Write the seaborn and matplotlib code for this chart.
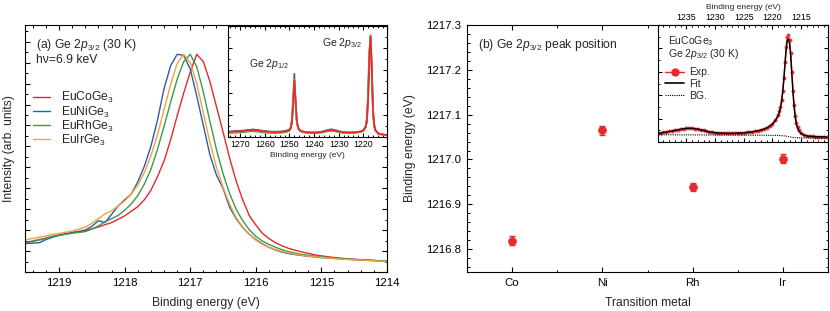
import numpy as np
import pandas as pd
import seaborn as sns
import matplotlib
matplotlib.use('Agg')
import matplotlib.pyplot as plt
from matplotlib.ticker import MultipleLocator, NullFormatter, FormatStrFormatter
from matplotlib.lines import Line2D

# ---------------- data ----------------
# (a) Ge 2p3/2 spectra, binding energy grid (eV)
energy = [1219.5, 1219.4, 1219.3, 1219.2, 1219.1, 1219.0, 1218.9, 1218.8, 1218.7, 1218.6,
          1218.5, 1218.4, 1218.3, 1218.2, 1218.1, 1218.0, 1217.9, 1217.8, 1217.7, 1217.6,
          1217.5, 1217.4, 1217.3, 1217.2, 1217.1, 1217.0, 1216.9, 1216.8, 1216.7, 1216.6,
          1216.5, 1216.4, 1216.3, 1216.2, 1216.1, 1216.0, 1215.9, 1215.8, 1215.7, 1215.6,
          1215.5, 1215.4, 1215.3, 1215.2, 1215.1, 1215.0, 1214.9, 1214.8, 1214.7, 1214.6,
          1214.5, 1214.4, 1214.3, 1214.2, 1214.1, 1214.0]
co_int = [1.42, 1.48, 1.55, 1.62, 1.70, 1.77, 1.83, 1.89, 1.94, 1.99,
          2.06, 2.15, 2.26, 2.36, 2.52, 2.68, 2.90, 3.12, 3.45, 3.90,
          4.55, 5.30, 6.30, 7.45, 8.55, 9.55, 10.40, 10.05, 9.10, 7.90,
          6.70, 5.45, 4.35, 3.45, 2.70, 2.25, 1.85, 1.60, 1.40, 1.25,
          1.13, 1.04, 0.96, 0.89, 0.82, 0.77, 0.73, 0.69, 0.66, 0.63,
          0.61, 0.59, 0.57, 0.55, 0.53, 0.52]
ni_int = [1.36, 1.38, 1.40, 1.55, 1.66, 1.75, 1.82, 1.87, 1.93, 2.00,
          2.18, 2.45, 2.36, 2.75, 3.15, 3.45, 3.72, 4.30, 5.05, 6.00,
          7.25, 8.75, 9.85, 10.40, 10.35, 9.70, 8.40, 7.00, 5.60, 4.63,
          4.00, 3.10, 2.55, 2.12, 1.80, 1.55, 1.35, 1.18, 1.05, 0.95,
          0.88, 0.83, 0.79, 0.75, 0.72, 0.69, 0.67, 0.65, 0.63, 0.61,
          0.59, 0.57, 0.56, 0.55, 0.53, 0.52]
rh_int = [1.40, 1.46, 1.53, 1.60, 1.70, 1.75, 1.80, 1.85, 1.89, 1.93,
          2.05, 2.20, 2.40, 2.55, 2.70, 2.95, 3.25, 3.65, 4.20, 4.90,
          5.85, 6.95, 8.10, 9.20, 10.05, 10.40, 9.80, 8.60, 7.20, 5.85,
          4.70, 3.75, 3.00, 2.45, 2.02, 1.70, 1.48, 1.32, 1.18, 1.06,
          0.97, 0.90, 0.84, 0.80, 0.76, 0.72, 0.69, 0.66, 0.64, 0.62,
          0.60, 0.58, 0.56, 0.55, 0.54, 0.52]
ir_int = [1.55, 1.60, 1.66, 1.72, 1.80, 1.84, 1.90, 1.96, 2.05, 2.14,
          2.32, 2.55, 2.78, 2.92, 3.15, 3.40, 3.72, 4.15, 4.75, 5.55,
          6.55, 7.75, 8.95, 9.95, 10.40, 10.00, 9.00, 7.60, 6.20, 5.00,
          4.05, 3.25, 2.60, 2.15, 1.80, 1.52, 1.32, 1.18, 1.07, 0.98,
          0.91, 0.85, 0.80, 0.76, 0.73, 0.70, 0.67, 0.64, 0.62, 0.60,
          0.58, 0.57, 0.55, 0.54, 0.52, 0.50]

# (a) inset: wide Ge 2p range
energy_wide = [1275, 1273, 1271, 1269, 1267, 1265, 1263, 1261, 1259, 1257, 1255, 1253, 1251,
               1250, 1249.5, 1249, 1248.5, 1248, 1247.5, 1247, 1246.5, 1246, 1245, 1243, 1241,
               1239, 1237, 1235, 1233, 1231, 1229, 1227, 1225, 1223, 1221, 1220, 1219, 1218.5,
               1218, 1217.5, 1217, 1216.5, 1216, 1215.5, 1215, 1214, 1213, 1211, 1209]
co_wide = [0.045, 0.048, 0.050, 0.053, 0.058, 0.062, 0.058, 0.052, 0.047, 0.045, 0.045, 0.047, 0.055,
           0.065, 0.080, 0.130, 0.300, 0.510, 0.330, 0.150, 0.090, 0.068, 0.052, 0.043, 0.040,
           0.040, 0.045, 0.055, 0.062, 0.055, 0.045, 0.040, 0.040, 0.043, 0.050, 0.058, 0.090, 0.140,
           0.330, 0.700, 0.915, 0.640, 0.250, 0.110, 0.062, 0.035, 0.026, 0.020, 0.018]
ni_wide = [0.048, 0.052, 0.055, 0.058, 0.063, 0.068, 0.064, 0.057, 0.051, 0.048, 0.048, 0.050, 0.058,
           0.070, 0.090, 0.160, 0.360, 0.570, 0.300, 0.130, 0.080, 0.062, 0.050, 0.043, 0.041,
           0.042, 0.048, 0.060, 0.070, 0.060, 0.048, 0.042, 0.041, 0.044, 0.050, 0.060, 0.100, 0.170,
           0.420, 0.780, 0.900, 0.560, 0.200, 0.090, 0.055, 0.033, 0.025, 0.019, 0.017]
rh_wide = [0.035, 0.038, 0.040, 0.043, 0.048, 0.052, 0.048, 0.042, 0.038, 0.036, 0.036, 0.038, 0.046,
           0.056, 0.072, 0.125, 0.300, 0.500, 0.320, 0.140, 0.082, 0.060, 0.045, 0.036, 0.034,
           0.034, 0.039, 0.048, 0.055, 0.049, 0.039, 0.034, 0.034, 0.037, 0.044, 0.052, 0.085, 0.135,
           0.340, 0.710, 0.905, 0.620, 0.240, 0.105, 0.058, 0.032, 0.024, 0.019, 0.017]
ir_wide = [0.042, 0.045, 0.048, 0.051, 0.056, 0.060, 0.056, 0.050, 0.045, 0.043, 0.043, 0.045, 0.053,
           0.063, 0.080, 0.140, 0.320, 0.520, 0.310, 0.140, 0.085, 0.064, 0.050, 0.041, 0.039,
           0.039, 0.044, 0.054, 0.062, 0.054, 0.044, 0.039, 0.039, 0.042, 0.048, 0.057, 0.092, 0.150,
           0.370, 0.740, 0.910, 0.600, 0.230, 0.100, 0.058, 0.033, 0.025, 0.019, 0.017]

# (b) peak positions
metals = ['Co', 'Ni', 'Rh', 'Ir']
peak_pos = [1216.819, 1217.065, 1216.938, 1217.002]
peak_err = [0.010, 0.010, 0.009, 0.010]

# (b) inset: EuCoGe3 fit
energy_fit = [1240.0, 1239.5, 1239.0, 1238.5, 1238.0, 1237.5, 1237.0, 1236.5, 1236.0, 1235.5,
              1235.0, 1234.5, 1234.0, 1233.5, 1233.0, 1232.5, 1232.0, 1231.5, 1231.0, 1230.5,
              1230.0, 1229.5, 1229.0, 1228.5, 1228.0, 1227.5, 1227.0, 1226.5, 1226.0, 1225.5,
              1225.0, 1224.5, 1224.0, 1223.5, 1223.0, 1222.5, 1222.0, 1221.5, 1221.0, 1220.5,
              1220.0, 1219.5, 1219.0, 1218.8, 1218.6, 1218.4, 1218.2, 1218.0, 1217.8, 1217.6,
              1217.4, 1217.2, 1217.0, 1216.8, 1216.6, 1216.4, 1216.2, 1216.0, 1215.8, 1215.6,
              1215.4, 1215.0, 1214.5, 1214.0, 1213.5, 1213.0, 1212.5, 1212.0, 1211.5, 1211.0,
              1210.5]
exp_int = [0.075, 0.078, 0.082, 0.086, 0.090, 0.095, 0.100, 0.105, 0.110, 0.114,
           0.117, 0.118, 0.117, 0.115, 0.111, 0.105, 0.099, 0.093, 0.088, 0.084,
           0.081, 0.079, 0.077, 0.076, 0.075, 0.075, 0.075, 0.076, 0.077, 0.078,
           0.080, 0.082, 0.085, 0.088, 0.092, 0.097, 0.104, 0.112, 0.123, 0.138,
           0.158, 0.188, 0.232, 0.262, 0.300, 0.355, 0.435, 0.545, 0.680, 0.815,
           0.900, 0.915, 0.870, 0.760, 0.600, 0.440, 0.315, 0.225, 0.165, 0.128,
           0.103, 0.078, 0.063, 0.055, 0.051, 0.049, 0.047, 0.046, 0.045, 0.045,
           0.044]
fit_int = [0.074, 0.077, 0.081, 0.085, 0.089, 0.094, 0.099, 0.104, 0.109, 0.113,
           0.116, 0.117, 0.116, 0.114, 0.110, 0.104, 0.098, 0.092, 0.087, 0.083,
           0.080, 0.078, 0.076, 0.075, 0.074, 0.074, 0.074, 0.075, 0.076, 0.077,
           0.079, 0.081, 0.084, 0.087, 0.091, 0.096, 0.102, 0.110, 0.120, 0.134,
           0.153, 0.180, 0.222, 0.252, 0.290, 0.345, 0.425, 0.535, 0.665, 0.790,
           0.870, 0.880, 0.835, 0.730, 0.570, 0.410, 0.290, 0.205, 0.150, 0.116,
           0.094, 0.072, 0.059, 0.052, 0.049, 0.047, 0.046, 0.045, 0.044, 0.044,
           0.043]
energy_bg = [1240.5, 1230.0, 1222.0, 1219.0, 1218.0, 1217.5, 1217.0, 1216.5, 1216.0, 1215.0, 1210.5]
bg_int = [0.062, 0.060, 0.058, 0.056, 0.053, 0.049, 0.044, 0.040, 0.037, 0.035, 0.034]

labels = ['EuCoGe$_3$', 'EuNiGe$_3$', 'EuRhGe$_3$', 'EuIrGe$_3$']
colors = ['#e8282b', '#2b5ca8', '#3a9a4c', '#f5a040']

# ---------------- style ----------------
sns.set_style('white')
plt.rcParams['font.family'] = ['Liberation Sans', 'DejaVu Sans']
plt.rcParams['mathtext.fontset'] = 'custom'
plt.rcParams['mathtext.rm'] = 'Liberation Sans'
plt.rcParams['mathtext.it'] = 'Liberation Sans:italic'
plt.rcParams['axes.linewidth'] = 0.8
plt.rcParams['axes.edgecolor'] = 'black'
plt.rcParams.update({
    'xtick.direction': 'in', 'ytick.direction': 'in',
    'xtick.top': True, 'ytick.right': True,
    'xtick.bottom': True, 'ytick.left': True,
    'xtick.color': 'black', 'ytick.color': 'black',
})


def style_ticks(ax, major=3.5, minor=1.8, size=8.2, pad=4.5):
    ax.tick_params(which='both', direction='in', top=True, right=True, bottom=True, left=True,
                   labelsize=size, color='black', labelcolor='black', pad=pad)
    ax.tick_params(which='major', length=major, width=0.8)
    ax.tick_params(which='minor', length=minor, width=0.7)


fig = plt.figure(figsize=(8.3, 3.11), dpi=100)
FS = 8.7

# ---------------- (a) ----------------
ax1 = fig.add_axes([0.0301, 0.1254, 0.4361, 0.7942])
spec = pd.DataFrame({'energy': energy, 'Co': co_int, 'Ni': ni_int, 'Rh': rh_int, 'Ir': ir_int})
for col, lab, c in zip(['Co', 'Ni', 'Rh', 'Ir'], labels, colors):
    sns.lineplot(data=spec, x='energy', y=col, ax=ax1, color=c, lw=1.0, label=lab)
ax1.set_xlim(1219.52, 1214.0)
ax1.set_ylim(0, 11.8)
ax1.xaxis.set_major_locator(MultipleLocator(1))
ax1.xaxis.set_minor_locator(MultipleLocator(0.2))
ax1.yaxis.set_major_locator(MultipleLocator(1))
ax1.yaxis.set_minor_locator(MultipleLocator(0.5))
ax1.yaxis.set_major_formatter(NullFormatter())
style_ticks(ax1)
ax1.set_xlabel('Binding energy (eV)', fontsize=FS, labelpad=6)
ax1.set_ylabel('Intensity (arb. units)', fontsize=FS, labelpad=3)
ax1.text(0.03, 0.92, '(a) Ge 2$\\mathit{p}_{3/2}$ (30 K)', transform=ax1.transAxes,
         fontsize=FS, va='center')
ax1.text(0.03, 0.86, 'h\u03bd=6.9 keV', transform=ax1.transAxes, fontsize=FS, va='center')
ax1.legend(loc='upper left', bbox_to_anchor=(0.0, 0.77), frameon=False, fontsize=FS,
           handlelength=1.4, handletextpad=0.9, labelspacing=-0.08, borderaxespad=0.3)

# inset (a)
ins1 = fig.add_axes([0.2747, 0.5595, 0.1916, 0.357])
wide = pd.DataFrame({'energy': energy_wide, 'Co': co_wide, 'Ni': ni_wide,
                     'Rh': rh_wide, 'Ir': ir_wide})
for col, c in zip(['Ni', 'Rh', 'Ir', 'Co'], [colors[1], colors[2], colors[3], colors[0]]):
    sns.lineplot(data=wide, x='energy', y=col, ax=ins1, color=c, lw=1.2)
ins1.set_xlim(1275, 1210.3)
ins1.set_ylim(0, 1)
ins1.xaxis.set_major_locator(MultipleLocator(10))
ins1.xaxis.set_minor_locator(MultipleLocator(2))
ins1.yaxis.set_major_locator(MultipleLocator(0.2))
ins1.yaxis.set_minor_locator(MultipleLocator(0.1))
ins1.yaxis.set_major_formatter(NullFormatter())
style_ticks(ins1, major=3, minor=1.5, size=6.3, pad=2.5)
ins1.set_xlabel('Binding energy (eV)', fontsize=6, labelpad=2)
ins1.set_ylabel('')
ins1.text(0.13, 0.66, 'Ge 2$\\mathit{p}_{1/2}$', transform=ins1.transAxes, fontsize=7.5, va='center')
ins1.text(0.59, 0.85, 'Ge 2$\\mathit{p}_{3/2}$', transform=ins1.transAxes, fontsize=7.5, va='center')

# ---------------- (b) ----------------
ax2 = fig.add_axes([0.5627, 0.1254, 0.4349, 0.7942])
pos = pd.DataFrame({'metal': metals, 'pos': peak_pos, 'err': peak_err})
ax2.errorbar(pos['metal'], pos['pos'], yerr=pos['err'], fmt='none', ecolor=colors[0],
             elinewidth=1.0, capsize=2.5, capthick=1.0)
sns.scatterplot(data=pos, x='metal', y='pos', ax=ax2, color=colors[0], s=32,
                edgecolor=colors[0], linewidth=0.5, zorder=3)
ax2.set_xlim(-0.5, 3.5)
ax2.set_ylim(1216.749, 1217.3)
ax2.xaxis.set_minor_locator(MultipleLocator(0.5))
ax2.yaxis.set_major_locator(MultipleLocator(0.1))
ax2.yaxis.set_minor_locator(MultipleLocator(0.02))
ax2.yaxis.set_major_formatter(FormatStrFormatter('%.1f'))
style_ticks(ax2)
ax2.set_xlabel('Transition metal', fontsize=FS, labelpad=6)
ax2.set_ylabel('Binding energy (eV)', fontsize=FS, labelpad=7)
ax2.text(0.03, 0.92, '(b) Ge 2$\\mathit{p}_{3/2}$ peak position', transform=ax2.transAxes,
         fontsize=FS, va='center')

# inset (b)
ins2 = fig.add_axes([0.7928, 0.5434, 0.2048, 0.3762])
fitdf = pd.DataFrame({'energy': energy_fit, 'exp': exp_int, 'fit': fit_int})
bgdf = pd.DataFrame({'energy': energy_bg, 'bg': bg_int})
sns.lineplot(data=fitdf, x='energy', y='exp', ax=ins2, color=colors[0], lw=1.0, marker='o',
             markersize=2.6, markeredgewidth=0.3, markeredgecolor='#f08080')
sns.lineplot(data=fitdf, x='energy', y='fit', ax=ins2, color='black', lw=1.0)
sns.lineplot(data=bgdf, x='energy', y='bg', ax=ins2, color='black', lw=0.8,
             linestyle=(0, (1, 1)))
ins2.set_xlim(1239.95, 1210.3)
ins2.set_ylim(0, 1)
ins2.xaxis.set_major_locator(MultipleLocator(5))
ins2.xaxis.set_minor_locator(MultipleLocator(1))
ins2.yaxis.set_major_locator(MultipleLocator(0.2))
ins2.yaxis.set_minor_locator(MultipleLocator(0.1))
ins2.yaxis.set_major_formatter(NullFormatter())
style_ticks(ins2, major=3, minor=1.5, size=6.3, pad=2)
ins2.tick_params(axis='x', labeltop=True, labelbottom=False)
ins2.xaxis.set_label_position('top')
ins2.set_xlabel('Binding energy (eV)', fontsize=6, labelpad=3)
ins2.set_ylabel('')
ins2.text(0.06, 0.86, 'EuCoGe$_3$', transform=ins2.transAxes, fontsize=7.5, va='center')
ins2.text(0.06, 0.75, 'Ge 2$\\mathit{p}_{3/2}$ (30 K)', transform=ins2.transAxes, fontsize=7.5,
          va='center')
handles = [Line2D([], [], color=colors[0], lw=1.0, marker='o', markersize=5),
           Line2D([], [], color='black', lw=1.2),
           Line2D([], [], color='black', lw=0.8, linestyle=(0, (1, 1)))]
ins2.legend(handles, ['Exp.', 'Fit', 'BG.'], loc='upper left', bbox_to_anchor=(0.0, 0.70),
            frameon=False, fontsize=7.5, handlelength=1.8, handletextpad=0.5,
            labelspacing=0.15, borderaxespad=0.3)

fig.savefig('out.png', dpi=100)
